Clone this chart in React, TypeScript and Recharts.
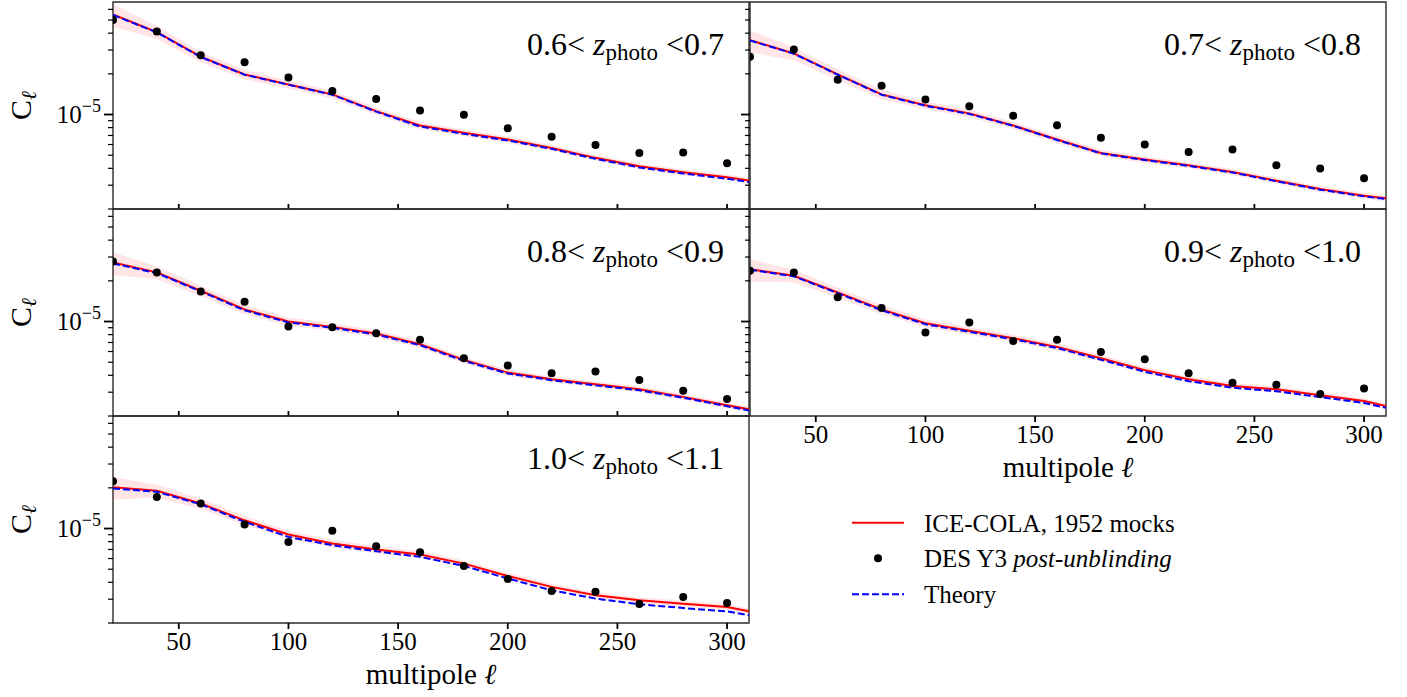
import React from "react"
import {
  ComposedChart,
  Line,
  Area,
  Scatter,
  XAxis,
  YAxis,
  ReferenceArea,
} from "recharts"

// multipoles of the measured bandpowers, plus the edge point for the curves
const ells = [20, 40, 60, 80, 100, 120, 140, 160, 180, 200, 220, 240, 260, 280, 300]
const lineElls = [...ells, 310]

// relative 1-sigma width of the mock band
const bandFrac = [0.19, 0.11, 0.09, 0.08, 0.07, 0.065, 0.06, 0.06, 0.055, 0.055, 0.05, 0.05, 0.05, 0.05, 0.05, 0.05]

// 0.6 < z < 0.7
const mock06 = [5.5e-5, 4.07e-5, 2.68e-5, 1.98e-5, 1.67e-5, 1.41e-5, 1.06e-5, 8.29e-6, 7.32e-6, 6.53e-6, 5.66e-6, 4.78e-6, 4.14e-6, 3.74e-6, 3.43e-6, 3.25e-6]
const theory06 = [5.45e-5, 4.05e-5, 2.66e-5, 1.97e-5, 1.66e-5, 1.4e-5, 1.05e-5, 8.15e-6, 7.2e-6, 6.43e-6, 5.57e-6, 4.7e-6, 4.06e-6, 3.66e-6, 3.35e-6, 3.17e-6]
const des06 = [5.0e-5, 4.12e-5, 2.75e-5, 2.44e-5, 1.88e-5, 1.49e-5, 1.3e-5, 1.07e-5, 9.95e-6, 7.92e-6, 6.84e-6, 5.96e-6, 5.2e-6, 5.23e-6, 4.36e-6]

// 0.7 < z < 0.8
const mock07 = [3.55e-5, 2.83e-5, 1.98e-5, 1.41e-5, 1.17e-5, 1.02e-5, 8.3e-6, 6.53e-6, 5.2e-6, 4.64e-6, 4.21e-6, 3.76e-6, 3.24e-6, 2.81e-6, 2.51e-6, 2.4e-6]
const theory07 = [3.53e-5, 2.82e-5, 1.97e-5, 1.4e-5, 1.16e-5, 1.01e-5, 8.25e-6, 6.48e-6, 5.16e-6, 4.6e-6, 4.17e-6, 3.72e-6, 3.21e-6, 2.78e-6, 2.48e-6, 2.37e-6]
const des07 = [2.68e-5, 3.03e-5, 1.81e-5, 1.63e-5, 1.29e-5, 1.15e-5, 9.78e-6, 8.33e-6, 6.72e-6, 6.0e-6, 5.29e-6, 5.5e-6, 4.21e-6, 3.98e-6, 3.37e-6]

// 0.8 < z < 0.9
const mock08 = [2.73e-5, 2.31e-5, 1.69e-5, 1.23e-5, 1.0e-5, 9.13e-6, 8.15e-6, 6.79e-6, 5.2e-6, 4.19e-6, 3.74e-6, 3.43e-6, 3.15e-6, 2.77e-6, 2.4e-6, 2.24e-6]
const theory08 = [2.69e-5, 2.28e-5, 1.67e-5, 1.21e-5, 9.85e-6, 8.98e-6, 8.02e-6, 6.68e-6, 5.12e-6, 4.12e-6, 3.68e-6, 3.37e-6, 3.1e-6, 2.73e-6, 2.36e-6, 2.2e-6]
const des08 = [2.78e-5, 2.31e-5, 1.67e-5, 1.4e-5, 9.18e-6, 9.08e-6, 8.2e-6, 7.32e-6, 5.35e-6, 4.72e-6, 4.14e-6, 4.26e-6, 3.7e-6, 3.08e-6, 2.67e-6]

// 0.9 < z < 1.0
const mock09 = [2.44e-5, 2.18e-5, 1.64e-5, 1.23e-5, 9.72e-6, 8.53e-6, 7.53e-6, 6.49e-6, 5.35e-6, 4.37e-6, 3.74e-6, 3.34e-6, 3.15e-6, 2.85e-6, 2.58e-6, 2.37e-6]
const theory09 = [2.42e-5, 2.16e-5, 1.62e-5, 1.21e-5, 9.55e-6, 8.38e-6, 7.4e-6, 6.36e-6, 5.22e-6, 4.25e-6, 3.62e-6, 3.24e-6, 3.05e-6, 2.76e-6, 2.5e-6, 2.3e-6]
const des09 = [2.37e-5, 2.31e-5, 1.51e-5, 1.26e-5, 8.3e-6, 9.83e-6, 7.19e-6, 7.32e-6, 5.96e-6, 5.26e-6, 4.14e-6, 3.53e-6, 3.41e-6, 2.91e-6, 3.19e-6]

// 1.0 < z < 1.1
const mock10 = [2.02e-5, 1.9e-5, 1.53e-5, 1.15e-5, 9.03e-6, 7.74e-6, 6.99e-6, 6.42e-6, 5.5e-6, 4.46e-6, 3.7e-6, 3.21e-6, 2.95e-6, 2.78e-6, 2.63e-6, 2.44e-6]
const theory10 = [1.98e-5, 1.87e-5, 1.51e-5, 1.12e-5, 8.67e-6, 7.53e-6, 6.79e-6, 6.17e-6, 5.29e-6, 4.27e-6, 3.49e-6, 3.03e-6, 2.75e-6, 2.58e-6, 2.44e-6, 2.28e-6]
const des10 = [2.24e-5, 1.71e-5, 1.53e-5, 1.07e-5, 7.96e-6, 9.61e-6, 7.4e-6, 6.68e-6, 5.29e-6, 4.24e-6, 3.45e-6, 3.4e-6, 2.77e-6, 3.12e-6, 2.81e-6]

const yTicks = [2e-6, 3e-6, 4e-6, 5e-6, 6e-6, 7e-6, 8e-6, 9e-6, 1e-5, 2e-5, 3e-5, 4e-5, 5e-5, 6e-5]
const xTicks = [50, 100, 150, 200, 250, 300]

const FONT = '"Liberation Serif", "DejaVu Serif", serif'
const PW = 636
const PH = 207
const X_DOMAIN: [number, number] = [20, 310]
const Y_DOMAIN: [number, number] = [2e-6, 6.8e-5]

const panels = [
  { lo: "0.6", hi: "0.7", mock: mock06, theory: theory06, des: des06, x: 113, y: 2, yLabels: true, xLabels: false },
  { lo: "0.7", hi: "0.8", mock: mock07, theory: theory07, des: des07, x: 750, y: 2, yLabels: false, xLabels: false },
  { lo: "0.8", hi: "0.9", mock: mock08, theory: theory08, des: des08, x: 113, y: 209, yLabels: true, xLabels: false },
  { lo: "0.9", hi: "1.0", mock: mock09, theory: theory09, des: des09, x: 750, y: 209, yLabels: false, xLabels: true },
  { lo: "1.0", hi: "1.1", mock: mock10, theory: theory10, des: des10, x: 113, y: 416, yLabels: true, xLabels: true },
]

function YTick({ x, y, payload, showLabel }: any) {
  const major = payload.value === 1e-5
  const len = major ? 9 : 5
  return (
    <g>
      <line x1={x - len} x2={x} y1={y} y2={y} stroke="#000" strokeWidth={major ? 1.8 : 1.2} />
      {major && showLabel && (
        <text x={x - 12} y={y + 8} textAnchor="end" fontFamily={FONT} fontSize={25} fill="#000">
          10<tspan dy={-11} fontSize={18}>−5</tspan>
        </text>
      )}
    </g>
  )
}

function XTick({ x, y, payload, showLabel }: any) {
  if (!showLabel) {
    return <line x1={x} x2={x} y1={y} y2={y - 5} stroke="#000" strokeWidth={1.8} />
  }
  return (
    <g>
      <line x1={x} x2={x} y1={y} y2={y + 6} stroke="#000" strokeWidth={1.8} />
      <text x={x} y={y + 27} textAnchor="middle" fontFamily={FONT} fontSize={25} fill="#000">
        {payload.value}
      </text>
    </g>
  )
}

const renderCl = (props: any) => {
  const vb = props.viewBox
  const cy = vb.y + vb.height / 2
  return (
    <text transform={`translate(31, ${cy}) rotate(-90)`} textAnchor="middle" fontFamily={FONT} fontSize={30} fill="#000">
      C<tspan fontSize={21} dy={5} fontStyle="italic">ℓ</tspan>
    </text>
  )
}

const renderXLabel = (props: any) => {
  const vb = props.viewBox
  return (
    <text x={vb.x + vb.width / 2} y={vb.y + 61} textAnchor="middle" fontFamily={FONT} fontSize={29} fill="#000">
      multipole <tspan fontStyle="italic">ℓ</tspan>
    </text>
  )
}

const renderBin = (lo: string, hi: string) => (props: any) => {
  const vb = props.viewBox
  return (
    <text x={vb.x + vb.width - 25} y={vb.y + 53} textAnchor="end" fontFamily={FONT} fontSize={32} fill="#000">
      {`${lo}< `}
      <tspan fontStyle="italic">z</tspan>
      <tspan fontSize={23} dy={5}>photo</tspan>
      <tspan dy={-5}>{` <${hi}`}</tspan>
    </text>
  )
}

function Panel({ p }: { p: (typeof panels)[number] }) {
  const padL = p.yLabels ? p.x : 12
  const padT = 4
  const padR = 4
  const padB = p.xLabels ? 74 : 2

  const rows = lineElls.map((ell, i) => ({
    ell,
    mock: p.mock[i],
    theory: p.theory[i],
    band: [p.mock[i] * (1 - bandFrac[i]), p.mock[i] * (1 + bandFrac[i])],
  }))
  const points = ells.map((ell, i) => ({ ell, cl: p.des[i] }))

  return (
    <div style={{ position: "absolute", left: p.x - padL, top: p.y - padT }}>
      <ComposedChart
        width={padL + PW + padR}
        height={padT + PH + padB}
        data={rows}
        margin={{ top: padT, right: padR, bottom: 0, left: 0 }}
      >
        <XAxis
          type="number"
          dataKey="ell"
          domain={X_DOMAIN}
          allowDataOverflow
          ticks={xTicks}
          interval={0}
          tickSize={0}
          tickMargin={0}
          axisLine={false}
          tickLine={false}
          height={padB}
          tick={(t: any) => <XTick {...t} showLabel={p.xLabels} />}
          label={p.xLabels ? renderXLabel : undefined}
        />
        <YAxis
          type="number"
          scale="log"
          domain={Y_DOMAIN}
          allowDataOverflow
          ticks={yTicks}
          interval={0}
          tickSize={0}
          tickMargin={0}
          axisLine={false}
          tickLine={false}
          width={padL}
          tick={(t: any) => <YTick {...t} showLabel={p.yLabels} />}
          label={p.yLabels ? renderCl : undefined}
        />
        <Area
          type="linear"
          dataKey="band"
          fill="#ff0000"
          fillOpacity={0.1}
          stroke="none"
          isAnimationActive={false}
        />
        <Line type="linear" dataKey="mock" stroke="#ff0000" strokeWidth={2} dot={false} isAnimationActive={false} />
        <Line
          type="linear"
          dataKey="theory"
          stroke="#0000ff"
          strokeWidth={2}
          strokeDasharray="7 3"
          dot={false}
          isAnimationActive={false}
        />
        <Scatter
          data={points}
          dataKey="cl"
          isAnimationActive={false}
          shape={(s: any) => <circle cx={s.cx} cy={s.cy} r={4} fill="#000" />}
        />
        <ReferenceArea
          x1={X_DOMAIN[0]}
          x2={X_DOMAIN[1]}
          y1={Y_DOMAIN[0]}
          y2={Y_DOMAIN[1]}
          fill="none"
          stroke="#2b2b2b"
          strokeWidth={1.4}
          ifOverflow="visible"
          label={renderBin(p.lo, p.hi)}
        />
      </ComposedChart>
    </div>
  )
}

function LegendBox() {
  return (
    <svg style={{ position: "absolute", left: 840, top: 500 }} width={400} height={120}>
      <line x1={12} x2={64} y1={22.7} y2={22.7} stroke="#ff0000" strokeWidth={2} />
      <text x={84} y={31.7} fontFamily={FONT} fontSize={25} fill="#000">ICE-COLA, 1952 mocks</text>
      <circle cx={38} cy={58.3} r={4} fill="#000" />
      <text x={84} y={67.4} fontFamily={FONT} fontSize={25} fill="#000">
        DES Y3 <tspan fontStyle="italic">post-unblinding</tspan>
      </text>
      <line x1={12} x2={64} y1={94.3} y2={94.3} stroke="#0000ff" strokeWidth={2} strokeDasharray="7 3" />
      <text x={84} y={103} fontFamily={FONT} fontSize={25} fill="#000">Theory</text>
    </svg>
  )
}

export default function App() {
  return (
    <div
      style={{
        position: "absolute",
        left: 0,
        top: 0,
        width: 1407,
        height: 697,
        background: "#fff",
        overflow: "hidden",
      }}
    >
      {panels.map((p) => (
        <Panel key={p.lo} p={p} />
      ))}
      <LegendBox />
    </div>
  )
}
